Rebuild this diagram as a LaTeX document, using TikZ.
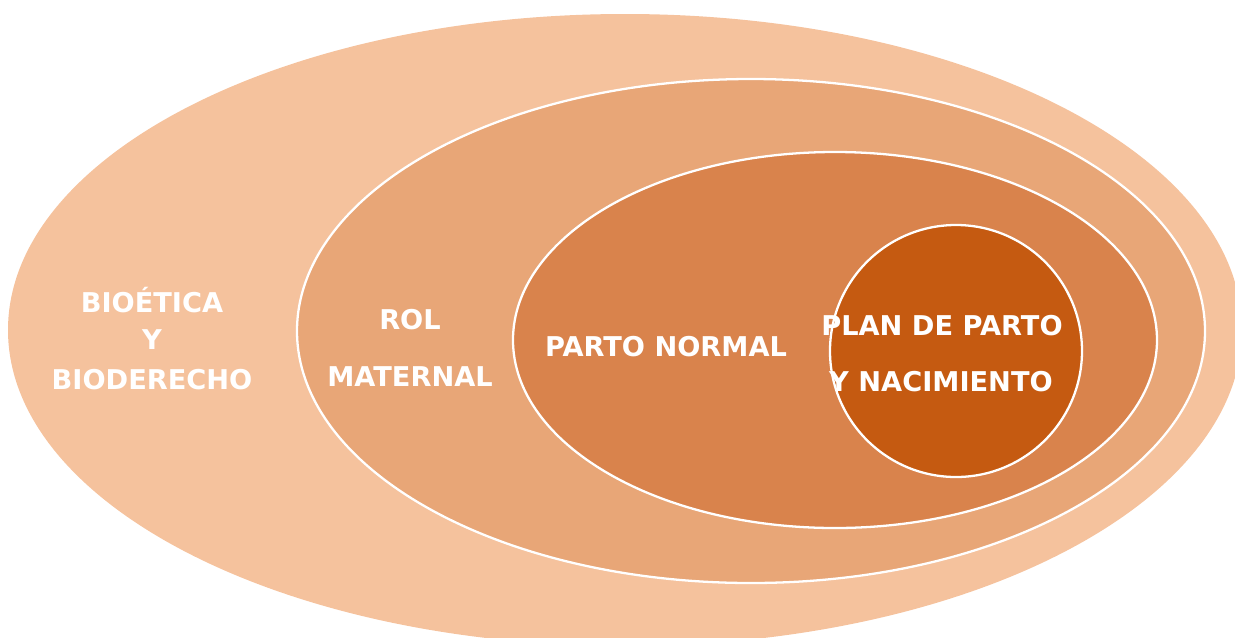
\documentclass[tikz,border=0pt]{standalone}
\usepackage{fontspec}
\setmainfont{DejaVu Sans}
\usepackage{tikz}
\usetikzlibrary{positioning}
\definecolor{capa1}{HTML}{F5C29D}
\definecolor{capa2}{HTML}{E8A677}
\definecolor{capa3}{HTML}{D9834C}
\definecolor{capa4}{HTML}{C55A11}
\tikzstyle{ring}  =[draw=white, line width=1.3pt]
\tikzstyle{label} =[text=white, font=\bfseries\fontsize{15.5}{18}\selectfont,
                    align=center, inner sep=0pt]

\begin{document}
\begin{tikzpicture}[x=0.02cm, y=-0.02cm]
    \useasboundingbox (0,0) rectangle (1235,637);
    \clip (0,0) rectangle (1235,637);

    \fill[capa1] (625,330) ellipse [x radius=617, y radius=316];
    \draw[ring, fill=capa2] (751,331) ellipse [x radius=454, y radius=252];
    \draw[ring, fill=capa3] (835,340) ellipse [x radius=322, y radius=188];
    \draw[ring, fill=capa4] (956,351) circle [radius=126];

    % textos
    \node[label] (1) at (152,300) {BIOÉTICA};
    \node[label] (2) at (152,340) {Y};
    \node[label] (3) at (152,380) {BIODERECHO};
    \node[label] (4) at (410,320) {ROL};
    \node[label] (5) at (410,377) {MATERNAL};
    \node[label] (6) at (666,347) {PARTO NORMAL};
    \node[label] (7) at (942,326) {PLAN DE PARTO};
    \node[label] (8) at (941,382) {Y NACIMIENTO};
\end{tikzpicture}
\end{document}
